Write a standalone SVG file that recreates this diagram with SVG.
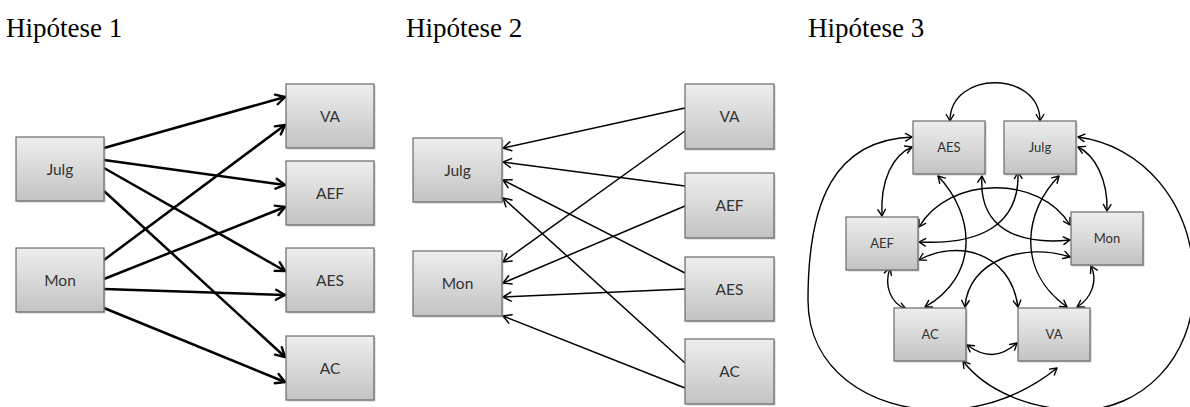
<svg xmlns="http://www.w3.org/2000/svg" width="1190" height="407" viewBox="0 0 1190 407">
  <defs>
    <linearGradient id="boxFill" x1="0" y1="0" x2="0" y2="1">
      <stop offset="0" stop-color="#eeeeee"/>
      <stop offset="1" stop-color="#c3c3c3"/>
    </linearGradient>
    <marker id="headBold" viewBox="-12 -7 14 14" markerWidth="14" markerHeight="14" refX="0" refY="0" orient="auto" markerUnits="userSpaceOnUse">
      <path d="M-9,-5 L0,0 L-9,5" fill="none" stroke="#000" stroke-width="2.4" stroke-linecap="round" stroke-linejoin="round"/>
    </marker>
    <marker id="headThin" viewBox="-12 -7 14 14" markerWidth="14" markerHeight="14" refX="0" refY="0" orient="auto" markerUnits="userSpaceOnUse">
      <path d="M-8,-4.5 L0,0 L-8,4.5" fill="none" stroke="#000" stroke-width="1.5" stroke-linecap="round" stroke-linejoin="round"/>
    </marker>
    <marker id="headSmall" viewBox="-10 -6 12 12" markerWidth="12" markerHeight="12" refX="0" refY="0" orient="auto-start-reverse" markerUnits="userSpaceOnUse">
      <path d="M-6.5,-3.8 L0,0 L-6.5,3.8" fill="none" stroke="#000" stroke-width="1.4" stroke-linecap="round" stroke-linejoin="round"/>
    </marker>
  </defs>
  <style>
    .title { font-family: "Liberation Serif", "Times New Roman", serif; font-size: 27px; fill: #000; }
    .box { fill: url(#boxFill); stroke: #6a6a6a; stroke-width: 1.2; }
    .shadow { fill: #8a8a8a; opacity: 0.45; }
    .lbl { font-family: Lato, "Open Sans", "Liberation Sans", sans-serif; font-size: 15.5px; fill: #333; text-anchor: middle; }
    .lbl3 { font-family: Lato, "Open Sans", "Liberation Sans", sans-serif; font-size: 13px; fill: #333; text-anchor: middle; }
    .bold { fill: none; stroke: #000; stroke-width: 2.5; marker-end: url(#headBold); }
    .thin { fill: none; stroke: #000; stroke-width: 1.5; marker-end: url(#headThin); }
    .both { fill: none; stroke: #000; stroke-width: 1.4; marker-start: url(#headSmall); marker-end: url(#headSmall); }
  </style>

  <rect width="1190" height="407" fill="#fff"/>

  <!-- panel titles -->
  <text class="title" x="6" y="37">Hipótese 1</text>
  <text class="title" x="406" y="37">Hipótese 2</text>
  <text class="title" x="808" y="37">Hipótese 3</text>

  <!-- ===== Hipótese 1 ===== -->
  <g id="h1-connectors">
    <line class="bold" x1="104" y1="148" x2="285" y2="97"/>
    <line class="bold" x1="104" y1="160" x2="285" y2="185"/>
    <line class="bold" x1="104" y1="168" x2="285" y2="271"/>
    <line class="bold" x1="104" y1="191" x2="285" y2="357"/>
    <line class="bold" x1="104" y1="260" x2="285" y2="125"/>
    <line class="bold" x1="104" y1="279" x2="285" y2="207"/>
    <line class="bold" x1="104" y1="289" x2="285" y2="295"/>
    <line class="bold" x1="104" y1="308" x2="285" y2="382"/>
  </g>
  <g id="h1-julg"><rect class="shadow" x="17.5" y="138.5" width="88" height="64"/><rect class="box" x="16" y="137" width="88" height="64"/><text class="lbl" x="60" y="174.5">Julg</text></g>
  <g id="h1-mon"><rect class="shadow" x="17.5" y="249.5" width="88" height="64"/><rect class="box" x="16" y="248" width="88" height="64"/><text class="lbl" x="60" y="285.5">Mon</text></g>
  <g id="h1-va"><rect class="shadow" x="287.5" y="85.5" width="88" height="64"/><rect class="box" x="286" y="84" width="88" height="64"/><text class="lbl" x="330" y="121.5">VA</text></g>
  <g id="h1-aef"><rect class="shadow" x="287.5" y="162.5" width="88" height="64"/><rect class="box" x="286" y="161" width="88" height="64"/><text class="lbl" x="330" y="198.5">AEF</text></g>
  <g id="h1-aes"><rect class="shadow" x="287.5" y="249.5" width="88" height="64"/><rect class="box" x="286" y="248" width="88" height="64"/><text class="lbl" x="330" y="285.5">AES</text></g>
  <g id="h1-ac"><rect class="shadow" x="287.5" y="337.5" width="88" height="64"/><rect class="box" x="286" y="336" width="88" height="64"/><text class="lbl" x="330" y="373.5">AC</text></g>

  <!-- ===== Hipótese 2 ===== -->
  <g id="h2-connectors">
    <line class="thin" x1="685" y1="108" x2="503" y2="148"/>
    <line class="thin" x1="685" y1="186" x2="503" y2="162"/>
    <line class="thin" x1="685" y1="273" x2="503" y2="180"/>
    <line class="thin" x1="685" y1="363" x2="503" y2="198"/>
    <line class="thin" x1="685" y1="131" x2="503" y2="262"/>
    <line class="thin" x1="685" y1="206" x2="503" y2="283"/>
    <line class="thin" x1="685" y1="289" x2="503" y2="297"/>
    <line class="thin" x1="685" y1="388" x2="503" y2="316"/>
  </g>
  <g id="h2-julg"><rect class="shadow" x="414.5" y="139.5" width="89" height="64"/><rect class="box" x="413" y="138" width="89" height="64"/><text class="lbl" x="457.5" y="175.5">Julg</text></g>
  <g id="h2-mon"><rect class="shadow" x="414.5" y="252.5" width="89" height="65"/><rect class="box" x="413" y="251" width="89" height="65"/><text class="lbl" x="457.5" y="289">Mon</text></g>
  <g id="h2-va"><rect class="shadow" x="686.5" y="85.5" width="89" height="65"/><rect class="box" x="685" y="84" width="89" height="65"/><text class="lbl" x="729.5" y="122">VA</text></g>
  <g id="h2-aef"><rect class="shadow" x="686.5" y="174.5" width="89" height="65"/><rect class="box" x="685" y="173" width="89" height="65"/><text class="lbl" x="729.5" y="211">AEF</text></g>
  <g id="h2-aes"><rect class="shadow" x="686.5" y="258.5" width="89" height="64"/><rect class="box" x="685" y="257" width="89" height="64"/><text class="lbl" x="729.5" y="294.5">AES</text></g>
  <g id="h2-ac"><rect class="shadow" x="686.5" y="340.5" width="89" height="65"/><rect class="box" x="685" y="339" width="89" height="65"/><text class="lbl" x="729.5" y="377">AC</text></g>

  <!-- ===== Hipótese 3 ===== -->
  <g id="h3-connectors">
    <!-- AES - Julg -->
    <path class="both" d="M950,121 C950,70 1040,70 1040,121"/>
    <!-- AES - AEF -->
    <path class="both" d="M912,147 C893,155 880,180 882,216"/>
    <!-- Julg - Mon -->
    <path class="both" d="M1078,147 C1095,155 1108,180 1107,211"/>
    <!-- AEF - AC -->
    <path class="both" d="M890,268 C884,285 890,303 906,309"/>
    <!-- Mon - VA -->
    <path class="both" d="M1091,266 C1098,280 1092,298 1077,307"/>
    <!-- AC - VA -->
    <path class="both" d="M967,345 C985,358 1000,358 1017,343"/>
    <!-- AES - AC -->
    <path class="both" d="M938,176 C975,215 980,275 925,307"/>
    <!-- Julg - AEF -->
    <path class="both" d="M1018,172 C1020,225 980,245 919,242"/>
    <!-- AES - Mon -->
    <path class="both" d="M982,176 C978,230 1020,245 1070,240"/>
    <!-- Julg - VA -->
    <path class="both" d="M1059,176 C1025,210 1015,270 1067,307"/>
    <!-- AEF - Mon -->
    <path class="both" d="M919,227 C950,175 1040,175 1070,225"/>
    <!-- AEF - VA -->
    <path class="both" d="M919,260 C955,240 1010,250 1018,307"/>
    <!-- Mon - AC -->
    <path class="both" d="M1070,257 C1025,242 968,260 965,307"/>
    <!-- AES - VA, round the left side -->
    <path class="both" d="M912,137 C835,140 808,200 808,300 C808,370 870,410 940,410 C990,410 1030,390 1057,368"/>
    <!-- Julg - AC, round the right side -->
    <path class="both" d="M1078,137 C1140,145 1194,200 1194,285 C1194,360 1140,410 1080,410 C1030,410 985,390 963,361"/>
  </g>
  <g id="h3-aes"><rect class="shadow" x="914.5" y="122.5" width="72" height="53"/><rect class="box" x="913" y="121" width="72" height="53"/><text class="lbl3" x="949" y="152">AES</text></g>
  <g id="h3-julg"><rect class="shadow" x="1005.5" y="122.5" width="72" height="53"/><rect class="box" x="1004" y="121" width="72" height="53"/><text class="lbl3" x="1040" y="152">Julg</text></g>
  <g id="h3-aef"><rect class="shadow" x="847.5" y="218.5" width="72" height="53"/><rect class="box" x="846" y="217" width="72" height="53"/><text class="lbl3" x="882" y="248">AEF</text></g>
  <g id="h3-mon"><rect class="shadow" x="1072.5" y="213.5" width="72" height="53"/><rect class="box" x="1071" y="212" width="72" height="53"/><text class="lbl3" x="1107" y="243">Mon</text></g>
  <g id="h3-ac"><rect class="shadow" x="895.5" y="309.5" width="72" height="53"/><rect class="box" x="894" y="308" width="72" height="53"/><text class="lbl3" x="930" y="339">AC</text></g>
  <g id="h3-va"><rect class="shadow" x="1019.5" y="309.5" width="72" height="53"/><rect class="box" x="1018" y="308" width="72" height="53"/><text class="lbl3" x="1054" y="339">VA</text></g>
</svg>
